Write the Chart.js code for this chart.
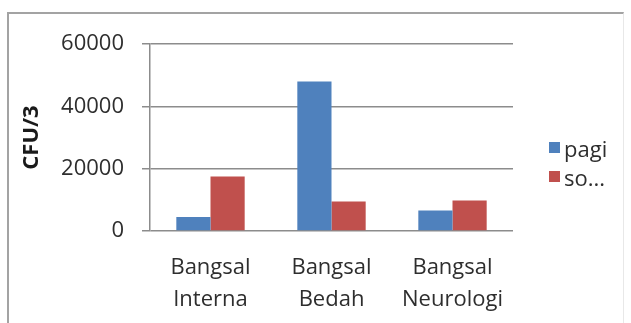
<!DOCTYPE html>
<html>
<head>
<meta charset="utf-8">
<script src="https://cdn.jsdelivr.net/npm/chart.js@4"></script>
<style>
  html, body { margin: 0; padding: 0; background: #fff; }
  #wrap { position: relative; width: 631px; height: 323px; overflow: hidden; }
  #frame {
    position: absolute; left: 7px; top: 12px; width: 614px; height: 330px;
    border-top: 2px solid #a3a3a3; border-left: 2px solid #a3a3a3; border-right: 1px solid #e8e8e8;
  }
  #chart { position: absolute; left: 0; top: 0; }
  #legend { position: absolute; left: 549px; top: 133px; font-family: "Open Sans", sans-serif; font-size: 22px; color: #2e2e2e; }
  .item { height: 29px; display: flex; align-items: center; }
  .box { width: 11px; height: 11px; margin-right: 4px; }
</style>
</head>
<body>
<div id="wrap">
  <div id="frame"></div>
  <canvas id="chart" width="631" height="323"></canvas>
  <div id="legend"></div>
</div>
<script>
// data
let wards = [['Bangsal', 'Interna'], ['Bangsal', 'Bedah'], ['Bangsal', 'Neurologi']];
let seriesNames = ['pagi', 'so...'];
let pagi = [4500, 48000, 6600];
let sore = [17500, 9500, 9800];
let yTicks = [0, 20000, 40000, 60000];

let gridColor = '#8c8c8c';
let textColor = '#2e2e2e';

// legend in html, filled from the chart datasets
let htmlLegend = {
  id: 'htmlLegend',
  afterUpdate(chart) {
    let box = document.getElementById('legend');
    let items = chart.options.plugins.legend.labels.generateLabels(chart);
    box.innerHTML = '';
    items.forEach(item => {
      box.innerHTML += `<div class="item"><span class="box" style="background:${item.fillStyle}"></span><span>${item.text}</span></div>`;
    });
  }
};

new Chart(document.getElementById('chart'), {
  type: 'bar',
  data: {
    labels: wards,
    datasets: [
      { label: seriesNames[0], data: pagi, backgroundColor: '#4f81bd' },
      { label: seriesNames[1], data: sore, backgroundColor: '#c0504d' }
    ]
  },
  options: {
    responsive: false,
    animation: false,
    events: [],
    layout: { padding: { top: 44, right: 118, bottom: 0, left: 0 } },
    datasets: { bar: { barPercentage: 1, categoryPercentage: 0.565 } },
    plugins: {
      legend: { display: false },
      tooltip: { enabled: false }
    },
    scales: {
      x: {
        grid: { display: false, drawTicks: false },
        border: { display: false },
        ticks: {
          color: textColor,
          padding: 21,
          maxRotation: 0,
          font: { family: 'Open Sans', size: 22, lineHeight: 1.45 }
        },
        afterFit: (scale) => { scale.height = 92; }
      },
      y: {
        min: yTicks[0],
        max: yTicks[yTicks.length - 1],
        afterBuildTicks: (scale) => { scale.ticks = yTicks.map(v => ({ value: v })); },
        grid: { color: gridColor, lineWidth: 1.5, tickLength: 8 },
        border: { color: gridColor, width: 1.5 },
        ticks: {
          color: textColor,
          padding: 18,
          font: { family: 'Open Sans', size: 22 },
          callback: (value) => String(value)
        },
        title: {
          display: true,
          text: 'CFU/3',
          color: '#1a1a1a',
          padding: { top: 19, bottom: 0 },
          font: { family: 'Open Sans', size: 22, weight: 'bold', lineHeight: 1.2 }
        },
        afterFit: (scale) => { scale.width = 150; }
      }
    }
  },
  plugins: [htmlLegend]
});
</script>
</body>
</html>
